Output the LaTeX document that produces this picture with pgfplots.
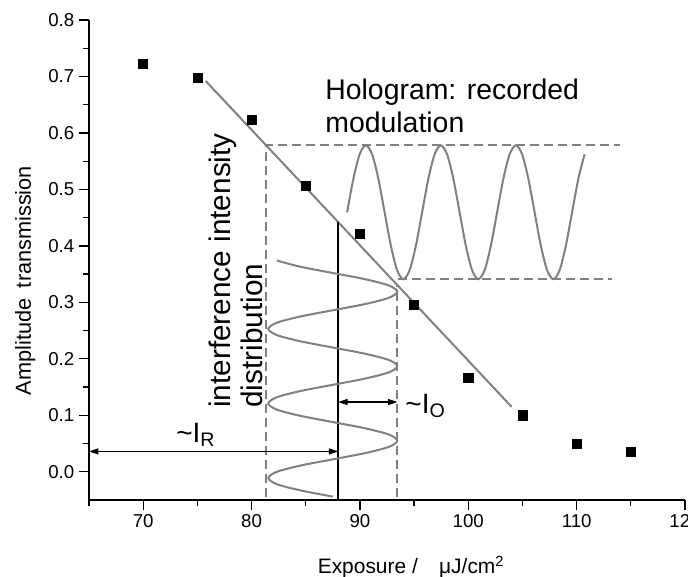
\documentclass[border=0pt]{standalone}
\usepackage{fontspec}
\setmainfont{Liberation Sans}
\usepackage{pgfplots}
\pgfplotsset{compat=1.18}
\usetikzlibrary{arrows.meta}
\definecolor{curvegray}{RGB}{128,128,128}
\newcommand{\ticksize}{\fontsize{14}{16.8}\selectfont}

\begin{document}
\begin{tikzpicture}
\begin{axis}[
  at={(0,0)}, anchor=south west,
  scale only axis, width=447pt, height=360pt,
  xmin=65, xmax=120, ymin=-0.05, ymax=0.8,
  axis x line*=bottom, axis y line*=left,
  axis line style={line width=1pt, -},
  xtick={70,80,90,100,110,120},
  minor xtick={65,75,85,95,105,115},
  ytick={0,0.1,0.2,0.3,0.4,0.5,0.6,0.7,0.8},
  minor ytick={0.05,0.15,0.25,0.35,0.45,0.55,0.65,0.75},
  tick align=outside,
  major tick length=7.5pt, minor tick length=4.3pt,
  tick style={line width=1pt, black},
  /pgf/number format/assume math mode=true,
  tick label style={font=\ticksize},
  yticklabel style={font=\ticksize,
    /pgf/number format/fixed, /pgf/number format/fixed zerofill,
    /pgf/number format/precision=1},
  xticklabel style={font=\ticksize,
    /pgf/number format/fixed, /pgf/number format/precision=0},
  xlabel={Exposure /\hspace{16pt}μJ/cm\textsuperscript{2}},
  xlabel style={at={(axis description cs:0.376,0)}, anchor=base west,
                yshift=-54.75pt, font=\fontsize{15.7}{18}\selectfont},
  ylabel={Amplitude\hspace{8pt}transmission},
  % the label is rotated, so its own y direction points to the left
  ylabel style={at={(axis description cs:0,0.2083)}, anchor=base west,
                yshift=43.5pt, font=\fontsize{16.3}{19}\selectfont},
  clip=false,
]

% measured transmission
\addplot[only marks, mark=square*, mark size=3.4pt, black]
  coordinates {(70,0.722)(75,0.698)(80,0.623)(85,0.506)(90,0.422)
               (95,0.295)(100,0.166)(105,0.100)(110,0.049)(115,0.035)};

% linear part of the characteristic
\addplot[curvegray, line width=1.5pt] coordinates {(75.77,0.692)(104.0,0.115)};

% guide lines bounding the exposure range and the transmission range
\addplot[curvegray, line width=1.4pt, dash pattern=on 7pt off 3.5pt]
  coordinates {(81.31,-0.045)(81.31,0.578)(114.0,0.578)};
\addplot[curvegray, line width=1.4pt, dash pattern=on 7pt off 3.5pt]
  coordinates {(93.46,-0.045)(93.46,0.33)};
\addplot[curvegray, line width=1.4pt, dash pattern=on 7pt off 3.5pt]
  coordinates {(93.5,0.341)(113.26,0.341)};

% mean exposure
\addplot[black, line width=1.5pt] coordinates {(88,-0.05)(88,0.442)};

% interference intensity distribution (exposure as a function of position)
\addplot[curvegray, line width=1.5pt, smooth] coordinates {
  (87.5,-0.044)(84.52,-0.033)(82.34,-0.022)(81.545,-0.011)(82.34,0.000)
  (84.52,0.011)(87.5,0.022)(90.48,0.033)(92.66,0.044)(93.455,0.055)
  (92.66,0.066)(90.48,0.077)(87.5,0.088)(84.52,0.099)(82.34,0.110)
  (81.545,0.121)(82.34,0.132)(84.52,0.143)(87.5,0.154)(90.48,0.165)
  (92.66,0.176)(93.455,0.187)(92.66,0.198)(90.48,0.209)(87.5,0.220)
  (84.52,0.231)(82.34,0.242)(81.545,0.253)(82.34,0.264)(84.52,0.275)
  (87.5,0.286)(90.48,0.297)(92.66,0.308)(93.455,0.319)(92.66,0.330)
  (90.48,0.341)(87.5,0.352)(84.52,0.363)(82.34,0.374)};

% recorded modulation of the hologram
\addplot[curvegray, line width=1.5pt, smooth] coordinates {
  (88.820,0.4595)(89.397,0.5188)(89.973,0.5621)(90.550,0.5780)(91.127,0.5621)
  (91.704,0.5188)(92.280,0.4595)(92.857,0.4003)(93.434,0.3569)(94.010,0.3410)
  (94.587,0.3569)(95.164,0.4003)(95.740,0.4595)(96.317,0.5188)(96.894,0.5621)
  (97.471,0.5780)(98.047,0.5621)(98.624,0.5188)(99.201,0.4595)(99.777,0.4003)
  (100.354,0.3569)(100.931,0.3410)(101.507,0.3569)(102.084,0.4003)(102.661,0.4595)
  (103.238,0.5188)(103.814,0.5621)(104.391,0.5780)(104.968,0.5621)(105.544,0.5188)
  (106.121,0.4595)(106.698,0.4003)(107.274,0.3569)(107.851,0.3410)(108.428,0.3569)
  (109.005,0.4003)(109.581,0.4595)(110.158,0.5188)(110.735,0.5621)};

% reference and object intensity spans
\addplot[black, line width=0.8pt,
  {Triangle[length=7pt,width=4.5pt]}-{Triangle[length=7pt,width=4.5pt]}]
  coordinates {(65,0.036)(88,0.036)};
\addplot[black, line width=0.8pt,
  {Triangle[length=7pt,width=4.5pt]}-{Triangle[length=7pt,width=4.5pt]}]
  coordinates {(88,0.1235)(93.46,0.1235)};

\node[anchor=base west, inner sep=0pt, font=\fontsize{21}{25}\selectfont]
  at (axis cs:73.03,0.0517) {\textasciitilde I\textsubscript{R}};
\node[anchor=base west, inner sep=0pt, font=\fontsize{21}{25}\selectfont]
  at (axis cs:94.18,0.104) {\textasciitilde I\textsubscript{O}};

\node[anchor=base west, inner sep=0pt, font=\fontsize{21.3}{25}\selectfont]
  at (axis cs:86.79,0.660) {Hologram: recorded};
\node[anchor=base west, inner sep=0pt, font=\fontsize{21.3}{25}\selectfont]
  at (axis cs:86.79,0.601) {modulation};

\node[anchor=base west, rotate=90, inner sep=0pt, font=\fontsize{22.3}{26}\selectfont]
  at (axis cs:78.02,0.113) {interference intensity};
\node[anchor=base west, rotate=90, inner sep=0pt, font=\fontsize{22.3}{26}\selectfont]
  at (axis cs:80.97,0.113) {distribution};
\end{axis}
\pgfresetboundingbox
\path[use as bounding box] (-66.75pt,-57.75pt) rectangle (449.25pt,375pt);
\end{tikzpicture}
\end{document}
